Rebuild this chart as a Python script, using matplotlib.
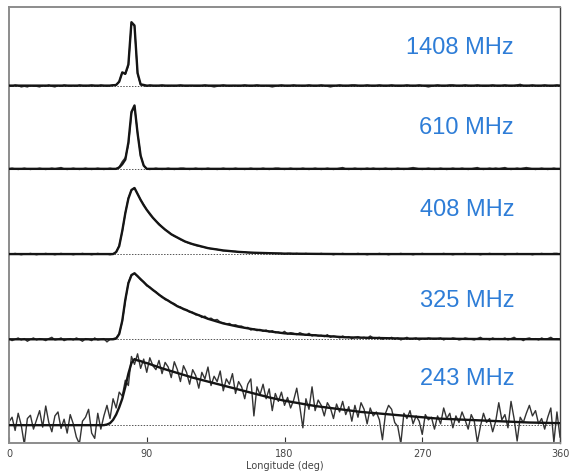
import matplotlib.pyplot as plt
import numpy as np

# pulse longitude grid for the observed profiles (2 deg bins)
lon = np.arange(0, 361, 2)

# observed profiles, percent of peak
prof_1408 = [
    0, -1, 1, 0, -2, -1, -2, 0, -1, -1, -2, 0, -1, 1, -1, -2, 0, -1, 1, 0,
    -1, 0, -1, 1, 0, -1, 0, 1, 0, -1, 1, 0, -1, 0, 1, 1, 6, 20, 17, 30,
    95, 90, 18, 1, 0, -1, 1, 0, -1, 0, 1, 0, -1, 0, -1, 0, 1, 0, -1, 0,
    0, -1, -1, 0, 1, 0, -1, -2, -1, 0, 1, 0, -1, 0, 0, -1, 0, 1, 0, -1,
    0, 1, 0, -1, 0, -1, -2, -1, 0, 1, 0, -1, 0, 1, 0, 0, -1, 0, 1, 0,
    -1, 0, 1, 0, -1, -2, -1, 0, 1, 0, -1, 0, 1, 1, 0, -1, 0, 1, 0, -1,
    0, 1, 0, -1, 0, 1, 0, -1, -1, 0, 1, 0, -1, 0, 1, 0, -1, -2, -1, 0,
    1, 0, -1, 0, 1, 1, 0, -1, 0, 1, 0, -1, 0, 1, 0, -1, -1, 0, 1, 0,
    -1, 0, 1, 0, -1, 0, 1, 2, 0, -1, 0, 1, 0, -1, 0, 1, 0, -1, 0, 1,
    0,
]
prof_610 = [
    0, 1, 0, -1, 0, 1, 0, -1, 0, 0, 1, 0, -1, 0, 1, 0, 1, 2, 0, -1,
    0, 1, 0, -1, 0, 1, 0, -1, 0, 1, 0, -1, 0, 1, 0, 0, 3, 11, 17, 36,
    84, 95, 55, 20, 5, 0, -1, 0, 1, 0, -1, 0, 1, 0, -1, 0, 1, 1, 0, -1,
    0, 1, 0, -1, 0, 1, 0, 0, -1, 0, 1, 0, -1, 0, 1, 0, 0, -1, 0, 1,
    0, -1, 0, 1, 0, -1, 0, 1, 1, 0, -1, 0, 1, 0, -1, 0, 1, 0, -1, 0,
    1, 0, -1, 0, 1, 0, -1, 0, 1, 2, 0, -1, 0, 1, 0, -1, 0, 1, 0, 1,
    0, -1, 0, 1, 0, -1, 0, 1, 0, -1, 0, 1, 2, 1, 0, -1, 0, 1, 0, -1,
    0, 1, 0, -1, 0, 1, 0, 0, 1, 0, -1, 0, 1, 2, 0, -1, 0, 1, 0, 1,
    0, 1, 2, 0, -1, 0, 1, 0, 1, 2, 1, 0, -1, 0, 1, 0, -1, 0, 1, 0,
    0,
]
prof_408 = [
    0, 0, 1, 0, -1, 0, 0, 1, 0, -1, 0, 0, 1, 0, 0, -1, 0, 1, 0, 0,
    0, -1, 0, 0, 1, 0, 0, -1, 0, 1, 0, 0, 0, -1, 0, 3, 13, 34, 62, 85,
    97, 100, 91, 82, 75, 67, 60, 55, 50, 46, 41, 37, 34, 30, 27, 25, 22, 20, 18, 16,
    15, 13, 12, 11, 10, 9, 8, 8, 7, 6, 5, 5, 5, 4, 4, 3, 3, 3, 2, 2,
    2, 2, 2, 1, 1, 2, 1, 1, 1, 1, 0, 1, 1, 0, 1, 0, 0, 1, 0, 0,
    0, 0, 1, 0, 0, 0, -1, 0, 0, 1, 0, 0, 0, 0, 1, 0, 0, -1, 0, 0,
    0, 1, 0, 0, -1, 0, 0, 0, 1, 0, 0, 0, -1, 0, 0, 1, 0, 0, 0, 0,
    0, 0, 1, 0, 0, -1, 0, 0, 0, 1, 0, 0, 0, 0, -1, 0, 0, 1, 0, 0,
    0, 0, -1, 0, 0, 0, 1, 0, 0, 0, 0, -1, 0, 0, 1, 0, 0, 0, 1, 1,
    0,
]
prof_325 = [
    1, -2, 0, 2, -1, 1, -3, 0, 2, -1, 1, 0, -2, 1, 3, -1, 0, 2, -2, 0,
    1, -1, 2, 0, -3, 1, 0, -2, 2, -1, 0, 1, -4, 0, 1, 2, 8, 27, 58, 86,
    98, 99, 96, 90, 87, 81, 79, 74, 72, 67, 65, 60, 59, 55, 54, 50, 49, 45, 45, 41,
    41, 37, 37, 33, 35, 31, 32, 29, 30, 26, 25, 23, 24, 21, 22, 20, 20, 17, 18, 14,
    16, 13, 15, 12, 14, 11, 13, 10, 11, 9, 12, 8, 10, 9, 7, 10, 8, 6, 9, 5,
    7, 5, 6, 4, 7, 3, 5, 4, 2, 5, 3, 4, 1, 3, 4, 2, 3, 1, 5, 2,
    2, 3, 0, 2, 1, 3, 0, 2, -1, 1, 3, 0, 1, 2, -1, 1, 0, 2, 1, 0,
    1, 2, -1, 1, 0, 2, 1, -1, 0, 2, 1, 0, -1, 1, 3, 0, 1, -1, 2, 0,
    1, 0, 2, -1, 1, 3, 0, 1, -2, 1, 2, 0, 1, -1, 2, 0, 1, 3, 0, 1,
    0,
]
prof_243 = [
    5, 12, -8, 18, 0, -29, 10, 15, -6, 8, 22, -3, 29, 4, -10, 14, 20, -5, 9, -12,
    16, 2, -18, -28, 6, 12, 24, -12, -20, 18, -6, 14, 30, 10, 40, 26, 50, 44, 68, 60,
    104, 92, 108, 86, 100, 80, 102, 90, 84, 98, 78, 95, 88, 72, 96, 84, 66, 90, 80, 62,
    84, 75, 56, 80, 70, 88, 60, 74, 66, 82, 52, 70, 62, 78, 48, 66, 58, 40, 62, 70,
    14, 58, 46, 62, 40, 55, 22, 48, 36, 50, 30, 42, 26, 38, 56, 28, -4, 40, 24, 58,
    22, 38, 30, 14, 34, 26, 10, 32, 20, 36, 16, 28, 6, 30, 12, 34, 24, 2, 26, 14,
    20, 8, -22, 18, 30, 24, 4, -2, -28, 18, 10, 22, 2, 14, 6, -14, 16, 8, 12, -6,
    14, 2, 26, 10, 18, -4, 14, 4, 20, 8, -6, 16, 6, -26, -2, 18, 4, 10, -10, 6,
    34, 8, 16, -4, 36, 10, -24, 12, 4, 18, 30, 14, 22, 2, 10, -6, 12, 26, -26, 20,
    -18,
]

# fitted scattering models, sampled at their own longitudes
model_1408_lon = [0, 66, 70, 72, 74, 76, 78, 80, 82, 84, 86, 90, 360]
model_1408 = [0, 0, 1, 6, 20, 18, 32, 96, 91, 19, 2, 0, 0]
model_610_lon = [0, 70, 72, 74, 76, 78, 80, 82, 84, 86, 88, 90, 360]
model_610 = [0, 0, 2, 7, 14, 40, 86, 96, 54, 20, 5, 0, 0]
model_408_lon = [0, 68, 70, 72, 74, 76, 78, 80, 82, 84, 86, 88, 90, 94, 98, 102,
                 106, 110, 115, 120, 130, 140, 150, 160, 180, 200, 220, 360]
model_408 = [0, 0, 3, 12, 35, 62, 84, 97, 100, 91, 82, 74, 67, 55, 45, 37,
             30, 25, 19, 15, 9, 5.5, 3.3, 2, 0.7, 0.3, 0, 0]
model_325_lon = [0, 68, 70, 72, 74, 76, 78, 80, 82, 86, 90, 95, 100, 110, 120, 130,
                 140, 150, 160, 170, 180, 200, 220, 240, 260, 280, 300, 360]
model_325 = [0, 0, 1, 8, 28, 60, 85, 97, 100, 91, 82, 73, 64, 50, 40, 31,
             24, 19, 15, 12, 9, 6, 3, 2, 1, 1, 0.5, 0]
model_243_lon = [0, 62, 64, 66, 68, 70, 72, 74, 76, 78, 80, 82, 84, 86, 88, 90,
                 100, 110, 120, 130, 140, 150, 160, 170, 180, 190, 200, 210, 220,
                 230, 240, 250, 260, 270, 280, 290, 300, 310, 320, 330, 340, 350, 360]
model_243 = [0, 0, 1, 3, 8, 16, 27, 40, 58, 78, 94, 100, 98, 97, 95, 94,
             86, 79, 72, 66, 60, 54, 48, 42, 37, 33, 29, 26, 23,
             20, 18, 16, 14, 12, 10, 9, 8, 7, 6, 5, 4, 3.5, 3]

freq_labels = ['1408 MHz', '610 MHz', '408 MHz', '325 MHz', '243 MHz']
profiles = [prof_1408, prof_610, prof_408, prof_325, prof_243]
models = [(model_1408_lon, model_1408), (model_610_lon, model_610),
          (model_408_lon, model_408), (model_325_lon, model_325),
          (model_243_lon, model_243)]

# vertical offset of each profile's baseline
offsets = [514, 388, 259, 130, 0]
label_y = [54, 134, 216, 307, 385]   # label baselines, pixels from top

W, H = 569, 473
fig = plt.figure(figsize=(W / 100, H / 100), dpi=100)
ax = fig.add_axes([9 / W, 30 / H, 551 / W, 436 / H])

for off, prof, (mlon, mval) in zip(offsets, profiles, models):
    ax.axhline(off, color='#555555', lw=0.7, ls=(0, (1.5, 1.5)), zorder=1)
    ax.plot(lon, np.array(prof) + off, color='#333333', lw=1.0, zorder=2)
    ax.plot(mlon, np.array(mval) + off, color='#151515', lw=1.7, zorder=3)

for txt, y in zip(freq_labels, label_y):
    fig.text(514 / W, 1 - y / H, txt, ha='right', va='baseline',
             fontsize=17, color='#2e7dd7', family='Liberation Sans')

ax.set_xlim(0, 360)
ax.set_ylim(-27, 633)
ax.set_xticks([0, 90, 180, 270, 360])
ax.set_yticks([])
ax.tick_params(axis='x', direction='in', length=4, width=0.8, color='#333333',
               labelsize=7, labelcolor='#444444', pad=4)
ax.set_xlabel('Longitude (deg)', fontsize=7, color='#444444', labelpad=2)
for side in ['left', 'top', 'bottom']:
    ax.spines[side].set_color('#8c8c8c')
    ax.spines[side].set_linewidth(1.4)
ax.spines['right'].set_color('#444444')
ax.spines['right'].set_linewidth(1.0)

fig.savefig('out.png', dpi=100, facecolor='white')
